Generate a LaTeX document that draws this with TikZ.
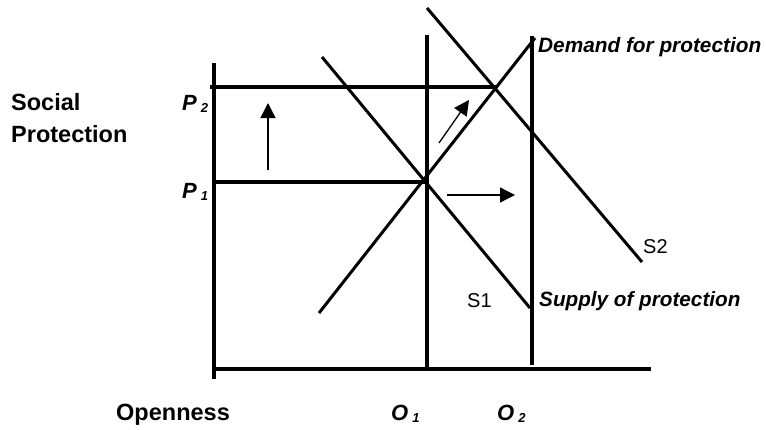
\documentclass[tikz,border=0pt]{standalone}
\usepackage{fontspec}
\setmainfont{Liberation Sans}
\usetikzlibrary{arrows.meta}
\begin{document}
\begin{tikzpicture}[x=1pt,y=-1pt,
  axisline/.style={line width=4.4pt},
  curve/.style={line width=3pt},
  shiftarrow/.style={line width=1.3pt,-{Triangle[length=15pt,width=15pt]}},
  biglabel/.style={anchor=base west,inner sep=0pt,font=\fontsize{23.5}{23.5}\selectfont\bfseries},
  ptlabel/.style={anchor=base west,inner sep=0pt,font=\fontsize{22}{22}\selectfont\bfseries\itshape},
  slabel/.style={anchor=base west,inner sep=0pt,font=\fontsize{20}{20}\selectfont}]
\useasboundingbox (0,0) rectangle (766,429);
% coordinates
\coordinate (ytop) at (214,63);
\coordinate (ybot) at (214,379);
\coordinate (xl) at (212,369);
\coordinate (xr) at (651,369);
\coordinate (o1t) at (427,35);
\coordinate (o1b) at (427,369);
\coordinate (o2t) at (532,36);
\coordinate (o2b) at (532,365);
\coordinate (p2l) at (210,87);
\coordinate (p2r) at (497,87);
\coordinate (p1l) at (214,182);
\coordinate (p1r) at (427,182);
\coordinate (dlo) at (319,313);
\coordinate (dhi) at (535,38);
\coordinate (s1a) at (322,57);
\coordinate (s1b) at (530,308);
\coordinate (s2a) at (427,8);
\coordinate (s2b) at (642,262);
\coordinate (a1s) at (268,170);
\coordinate (a1e) at (268,103);
\coordinate (a2s) at (439,143);
\coordinate (a2e) at (469,100);
\coordinate (a3s) at (447,195);
\coordinate (a3e) at (515,195);
% axes and levels
\draw[axisline] (ytop) -- (ybot);
\draw[axisline] (xl) -- (xr);
\draw[axisline] (o1t) -- (o1b);
\draw[axisline] (o2t) -- (o2b);
\draw[axisline] (p2l) -- (p2r);
\draw[axisline] (p1l) -- (p1r);
% curves
\draw[curve] (dlo) -- (dhi);
\draw[curve] (s1a) -- (s1b);
\draw[curve] (s2a) -- (s2b);
% arrows
\draw[shiftarrow] (a1s) -- (a1e);
\draw[shiftarrow] (a2s) -- (a2e);
\draw[shiftarrow] (a3s) -- (a3e);
% labels
\node[biglabel] (social) at (11,110) {Social};
\node[biglabel] (prot) at (11,142) {Protection};
\node[biglabel] (open) at (116,420) {Openness};
\node[ptlabel] (p2) at (182,110) {P\hspace{4pt}{\fontsize{13}{13}\selectfont\raisebox{-2pt}{2}}};
\node[ptlabel] (p1) at (182,198) {P\hspace{4pt}{\fontsize{13}{13}\selectfont\raisebox{-2pt}{1}}};
\node[ptlabel] (o1) at (391,420) {O\hspace{4pt}{\fontsize{13}{13}\selectfont\raisebox{-2pt}{1}}};
\node[ptlabel] (o2) at (497,420) {O\hspace{4pt}{\fontsize{13}{13}\selectfont\raisebox{-2pt}{2}}};
\node[slabel] (s1) at (467,307) {S1};
\node[slabel] (s2) at (643,253) {S2};
\node[ptlabel,font=\fontsize{20.7}{20.7}\selectfont\bfseries\itshape] (supply) at (539,306) {Supply of protection};
\node[ptlabel,font=\fontsize{20.8}{20.8}\selectfont\bfseries\itshape] (demand) at (538,52) {Demand for protection};
\end{tikzpicture}
\end{document}
